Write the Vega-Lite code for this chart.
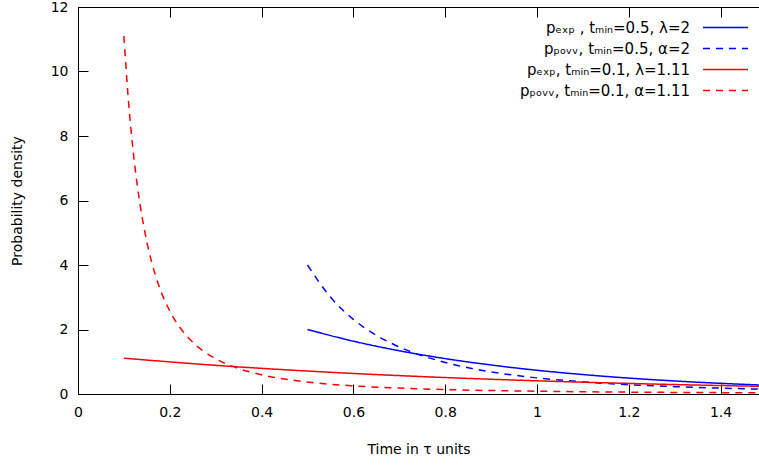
{
  "$schema": "https://vega.github.io/schema/vega-lite/v6.json",
  "width": 681,
  "height": 387,
  "autosize": {"type": "none"},
  "padding": {"left": 78, "top": 7, "right": 0, "bottom": 71},
  "background": "white",
  "config": {
    "view": {"stroke": "black", "strokeWidth": 1},
    "font": "DejaVu Sans",
    "axis": {"labelFont": "DejaVu Sans", "labelFontSize": 14, "titleFont": "DejaVu Sans", "titleFontSize": 14, "titleFontWeight": "normal", "labelColor": "black", "titleColor": "black", "grid": false, "domain": false, "tickColor": "black", "tickSize": -10, "tickWidth": 1},
    "legend": {"orient": "none", "legendX": 640, "legendY": 13, "symbolType": "M-4.5,0H4.5", "symbolSize": 100, "symbolStrokeWidth": 1.5, "labelAlign": "right", "labelOffset": -43, "rowPadding": 5, "labelFont": "DejaVu Sans", "labelFontSize": 15, "labelColor": "black", "labelLimit": 400}
  },
  "data": {"values": [
    {"s": "A", "t": 0.5, "p": 2},
    {"s": "A", "t": 0.6, "p": 1.6375},
    {"s": "A", "t": 0.7, "p": 1.3406},
    {"s": "A", "t": 0.8, "p": 1.0976},
    {"s": "A", "t": 0.9, "p": 0.8987},
    {"s": "A", "t": 1.0, "p": 0.7358},
    {"s": "A", "t": 1.1, "p": 0.6024},
    {"s": "A", "t": 1.2, "p": 0.4932},
    {"s": "A", "t": 1.3, "p": 0.4038},
    {"s": "A", "t": 1.4, "p": 0.3306},
    {"s": "A", "t": 1.5, "p": 0.2707},
    {"s": "B", "t": 0.5, "p": 4},
    {"s": "B", "t": 0.55, "p": 3.005},
    {"s": "B", "t": 0.6, "p": 2.315},
    {"s": "B", "t": 0.65, "p": 1.821},
    {"s": "B", "t": 0.7, "p": 1.458},
    {"s": "B", "t": 0.8, "p": 0.977},
    {"s": "B", "t": 0.9, "p": 0.686},
    {"s": "B", "t": 1.0, "p": 0.5},
    {"s": "B", "t": 1.1, "p": 0.376},
    {"s": "B", "t": 1.2, "p": 0.289},
    {"s": "B", "t": 1.3, "p": 0.228},
    {"s": "B", "t": 1.4, "p": 0.182},
    {"s": "B", "t": 1.5, "p": 0.148},
    {"s": "C", "t": 0.1, "p": 1.11},
    {"s": "C", "t": 0.3, "p": 0.889},
    {"s": "C", "t": 0.5, "p": 0.712},
    {"s": "C", "t": 0.7, "p": 0.570},
    {"s": "C", "t": 0.9, "p": 0.457},
    {"s": "C", "t": 1.1, "p": 0.366},
    {"s": "C", "t": 1.3, "p": 0.293},
    {"s": "C", "t": 1.5, "p": 0.235},
    {"s": "D", "t": 0.1, "p": 11.1},
    {"s": "D", "t": 0.11, "p": 9.077},
    {"s": "D", "t": 0.12, "p": 7.556},
    {"s": "D", "t": 0.13, "p": 6.381},
    {"s": "D", "t": 0.14, "p": 5.458},
    {"s": "D", "t": 0.15, "p": 4.719},
    {"s": "D", "t": 0.16, "p": 4.117},
    {"s": "D", "t": 0.18, "p": 3.211},
    {"s": "D", "t": 0.2, "p": 2.571},
    {"s": "D", "t": 0.22, "p": 2.103},
    {"s": "D", "t": 0.25, "p": 1.605},
    {"s": "D", "t": 0.3, "p": 1.093},
    {"s": "D", "t": 0.35, "p": 0.789},
    {"s": "D", "t": 0.4, "p": 0.596},
    {"s": "D", "t": 0.5, "p": 0.372},
    {"s": "D", "t": 0.6, "p": 0.253},
    {"s": "D", "t": 0.7, "p": 0.183},
    {"s": "D", "t": 0.8, "p": 0.138},
    {"s": "D", "t": 1.0, "p": 0.0861},
    {"s": "D", "t": 1.2, "p": 0.0586},
    {"s": "D", "t": 1.5, "p": 0.0366}
  ]},
  "resolve": {"axis": {"x": "independent"}},
  "layer": [
    {
      "mark": {"type": "line", "strokeWidth": 1.5, "clip": true, "interpolate": "monotone"},
      "encoding": {
        "x": {"field": "t", "type": "quantitative", "scale": {"domain": [0, 1.4837], "nice": false, "zero": false},
              "axis": {"values": [0, 0.2, 0.4, 0.6, 0.8, 1, 1.2, 1.4], "format": "~g", "title": "Time in τ units", "labelPadding": 21, "titlePadding": 23, "labelFlush": false, "labelOverlap": false}},
        "y": {"field": "p", "type": "quantitative", "scale": {"domain": [0, 12], "nice": false},
              "axis": {"values": [0, 2, 4, 6, 8, 10, 12], "title": "Probability density", "labelPadding": 20, "titlePadding": 26, "labelFlush": false}},
        "color": {"field": "s", "type": "nominal",
                  "scale": {"domain": ["A", "B", "C", "D"], "range": ["#0000ff", "#0000ff", "#ff0000", "#ff0000"]},
                  "legend": {"title": null, "labelExpr": "datum.value == 'A' ? 'pₑₓₚ , tₘᵢₙ=0.5, λ=2' : datum.value == 'B' ? 'pₚₒᵥᵥ, tₘᵢₙ=0.5, α=2' : datum.value == 'C' ? 'pₑₓₚ, tₘᵢₙ=0.1, λ=1.11' : 'pₚₒᵥᵥ, tₘᵢₙ=0.1, α=1.11'"}},
        "strokeDash": {"field": "s", "type": "nominal",
                       "scale": {"domain": ["A", "B", "C", "D"], "range": [[1, 0], [7, 6], [1, 0], [7, 6]]},
                       "legend": {"title": null, "labelExpr": "datum.value == 'A' ? 'pₑₓₚ , tₘᵢₙ=0.5, λ=2' : datum.value == 'B' ? 'pₚₒᵥᵥ, tₘᵢₙ=0.5, α=2' : datum.value == 'C' ? 'pₑₓₚ, tₘᵢₙ=0.1, λ=1.11' : 'pₚₒᵥᵥ, tₘᵢₙ=0.1, α=1.11'"}}
      }
    },
    {
      "mark": {"type": "line", "opacity": 0, "clip": true},
      "encoding": {
        "x": {"field": "t", "type": "quantitative", "axis": {"orient": "top", "values": [0, 0.2, 0.4, 0.6, 0.8, 1, 1.2, 1.4], "labels": false, "title": null}},
        "y": {"field": "p", "type": "quantitative"}
      }
    }
  ]
}
